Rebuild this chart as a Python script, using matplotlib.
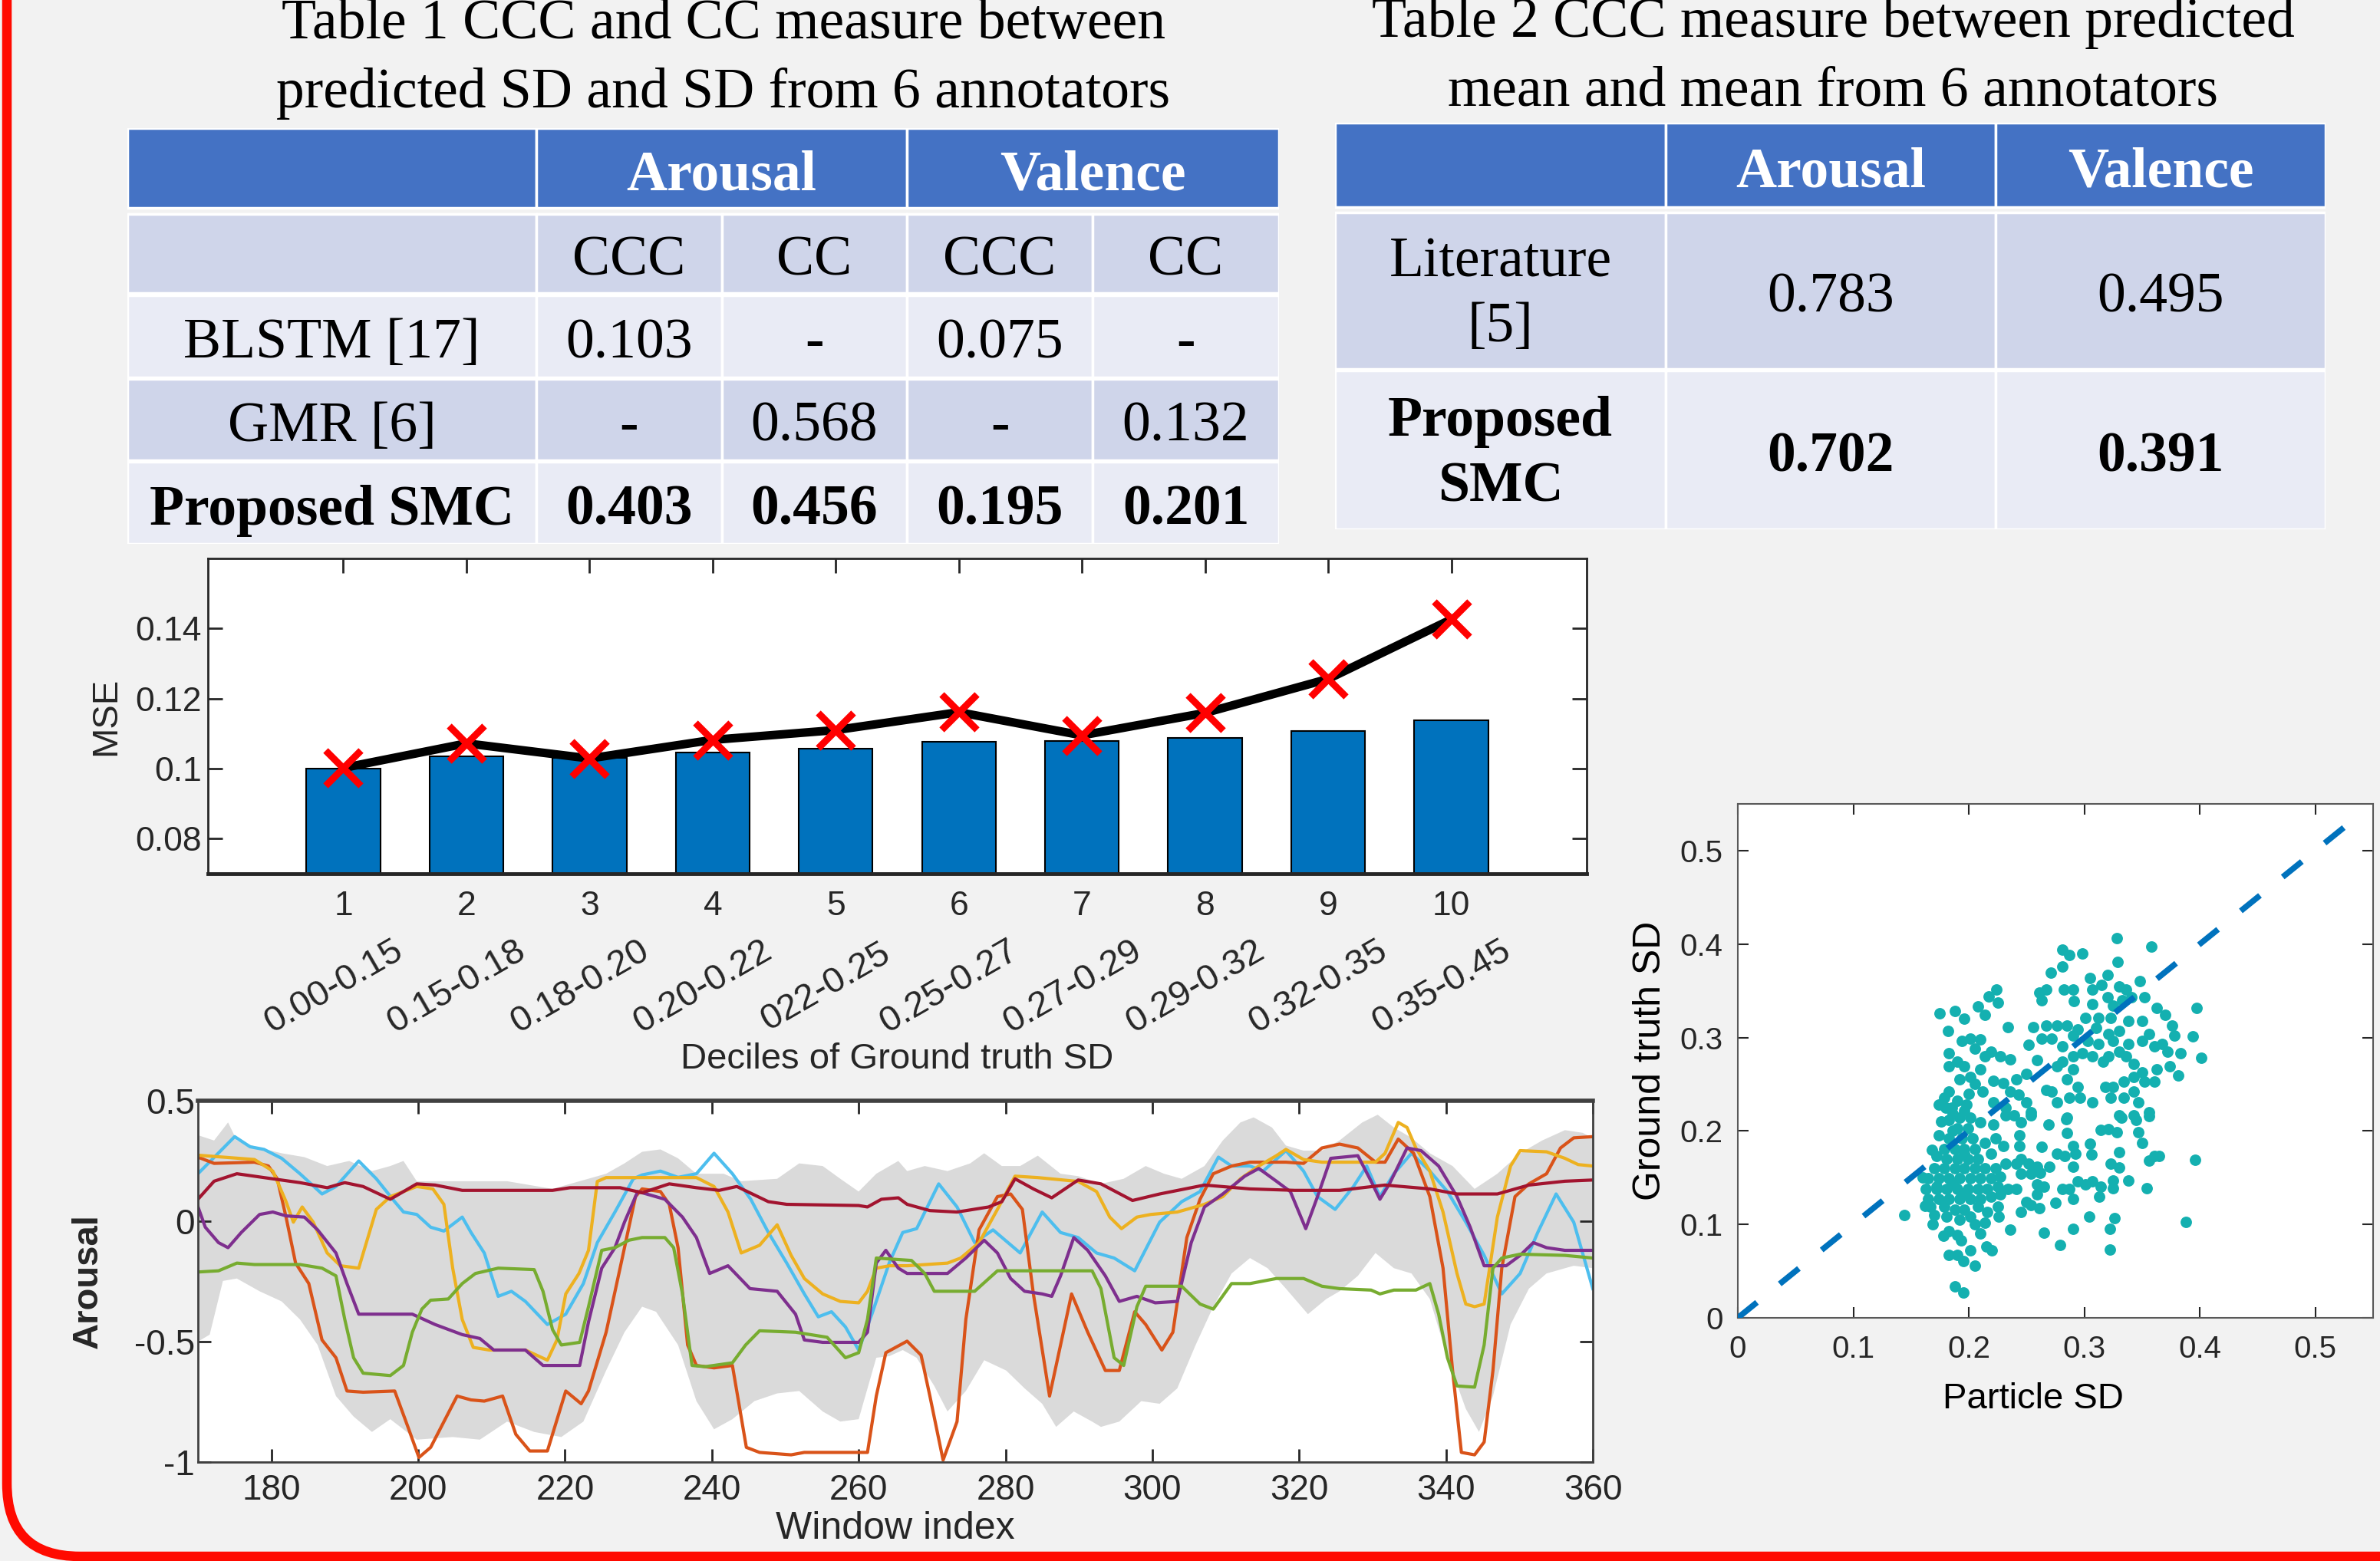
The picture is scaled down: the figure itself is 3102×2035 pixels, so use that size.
import matplotlib
matplotlib.use("Agg")
import matplotlib.pyplot as plt
from matplotlib.patches import Rectangle, FancyBboxPatch
import numpy as np

plt.rcParams['axes.unicode_minus'] = False
SANS = 'Liberation Sans'
SERIF = 'Liberation Serif'

# ---------------- data ----------------
t1_title = ["Table 1 CCC and CC measure between", "predicted SD and SD from 6 annotators"]
t1_groups = ["Arousal", "Valence"]
t1_sub = ["CCC", "CC", "CCC", "CC"]
t1_methods = ["BLSTM [17]", "GMR [6]", "Proposed SMC"]
t1_values = [["0.103", "-", "0.075", "-"],
             ["-", "0.568", "-", "0.132"],
             ["0.403", "0.456", "0.195", "0.201"]]

t2_title = ["Table 2 CCC measure between predicted", "mean and mean from 6 annotators"]
t2_cols = ["Arousal", "Valence"]
t2_methods = ["Literature\n[5]", "Proposed\nSMC"]
t2_values = [["0.783", "0.495"],
             ["0.702", "0.391"]]

deciles = [1, 2, 3, 4, 5, 6, 7, 8, 9, 10]
decile_ranges = ["0.00-0.15", "0.15-0.18", "0.18-0.20", "0.20-0.22", "022-0.25",
                 "0.25-0.27", "0.27-0.29", "0.29-0.32", "0.32-0.35", "0.35-0.45"]
mse_bar = [0.1000, 0.1034, 0.1031, 0.1045, 0.1058, 0.1076, 0.1078, 0.1088, 0.1107, 0.1139]
mse_line = [0.1002, 0.1072, 0.1029, 0.1082, 0.1110, 0.1161, 0.1095, 0.1159, 0.1256, 0.1426]

# annotator traces (window index, arousal)
cyan = [(170, 0.197), (175, 0.351), (177.1, 0.309), (179, 0.298), (181.4, 0.261), (183.9, 0.197),
        (186.9, 0.113), (188.8, 0.144), (191.9, 0.250), (194.3, 0.176), (196.8, 0.081), (198, 0.038),
        (199.8, 0.028), (201.7, -0.025), (203.5, -0.041), (206, 0.017), (207.2, -0.047), (209, -0.132),
        (210.9, -0.312), (212.7, -0.291), (214.6, -0.333), (217.6, -0.429), (220.1, -0.386),
        (222.5, -0.259), (224.4, -0.089), (226.8, 0.038), (229.3, 0.176), (230.5, 0.192), (233, 0.208),
        (235.4, 0.182), (237.9, 0.197), (240.3, 0.282), (242.8, 0.197), (245.3, 0.091), (247.7, -0.047),
        (250.2, -0.174), (252.6, -0.302), (254.5, -0.397), (256.3, -0.376), (258.2, -0.439),
        (260, -0.535), (261.8, -0.386), (264.2, -0.17), (266, -0.047), (267.9, -0.031), (270.9, 0.155),
        (273.4, 0.059), (275.8, -0.089), (278.3, -0.036), (282, -0.132), (285, 0.038), (287.5, -0.047),
        (289.9, -0.068), (292.4, -0.132), (294.8, -0.153), (297.6, -0.206), (301, -0.004), (304, 0.081),
        (306.5, 0.123), (309, 0.266), (310.8, 0.229), (313.3, 0.229), (315.1, 0.208), (318.2, 0.293),
        (320.6, 0.208), (322.5, 0.102), (324.9, 0.049), (327.4, 0.144), (329.2, 0.229), (331, 0.102),
        (332.9, 0.197), (335.3, 0.282), (337.8, 0.208), (340.2, 0.123), (342.7, -0.004), (345.2, -0.142),
        (347.6, -0.302), (350.1, -0.217), (352.5, -0.047), (355, 0.113), (357.4, -0.004), (360, -0.28)]
orange = [(170, 0.266), (172.2, 0.240), (177.7, 0.245), (179.6, 0.229), (180.8, 0.176), (182, 0.017),
          (183.3, -0.174), (185.1, -0.259), (186.9, -0.493), (188.8, -0.567), (190.3, -0.705),
          (192.5, -0.710), (196.8, -0.705), (198.6, -0.854), (200.1, -0.981), (201.7, -0.939),
          (205.3, -0.726), (207.2, -0.742), (209, -0.747), (211.5, -0.726), (213.3, -0.885),
          (215.2, -0.954), (217.6, -0.954), (220.1, -0.705), (222.2, -0.758), (223.2, -0.705),
          (225.6, -0.461), (227.5, -0.195), (229.6, 0.102), (230.5, 0.134), (233, 0.123), (234.2, 0.070),
          (235.4, -0.110), (236.7, -0.514), (237.9, -0.599), (240.3, -0.609), (242.8, -0.599),
          (244.7, -0.939), (246.5, -0.960), (250.8, -0.970), (252.6, -0.960), (261.2, -0.960),
          (262.4, -0.726), (263.7, -0.546), (266.6, -0.498), (268.5, -0.556), (269.7, -0.726),
          (271.5, -0.992), (273.4, -0.832), (274.6, -0.408), (276.4, -0.036), (278.9, 0.102),
          (280.7, 0.113), (282.3, 0.049), (283.8, -0.302), (286, -0.726), (287.5, -0.514), (289, -0.302),
          (291.2, -0.461), (293.6, -0.620), (295.5, -0.620), (297.6, -0.376), (299.1, -0.429),
          (301.3, -0.535), (302.8, -0.461), (304.7, -0.068), (306.5, 0.091), (308.3, 0.197),
          (310.8, 0.229), (313.3, 0.245), (318.2, 0.245), (320.6, 0.240), (323.1, 0.304), (325.5, 0.320),
          (328, 0.304), (330.4, 0.245), (331.7, 0.245), (333.5, 0.341), (335.6, 0.282), (337.8, 0.102),
          (339.6, -0.195), (340.9, -0.620), (342.1, -0.960), (343.9, -0.970), (345.2, -0.917),
          (346.4, -0.620), (347.6, -0.195), (349.4, 0.102), (351.3, 0.155), (353.7, 0.197),
          (355.6, 0.304), (357.4, 0.346), (360, 0.351)]
yellow = [(170, 0.274), (177.7, 0.256), (180.2, 0.208), (182, 0.081), (183, -0.004), (184.2, 0.059),
          (185.7, -0.004), (187.6, -0.132), (189.4, -0.185), (191.9, -0.195), (194.3, 0.049),
          (196.2, 0.102), (199.8, 0.144), (202, 0.134), (203.5, 0.070), (204.7, -0.195), (206, -0.408),
          (207.5, -0.524), (209.7, -0.535), (214.6, -0.535), (217.6, -0.577), (218.9, -0.493),
          (220.1, -0.302), (221.9, -0.217), (223.2, -0.121), (224.4, 0.165), (225.6, 0.181),
          (237.9, 0.181), (240.3, 0.144), (242.2, 0.038), (244, -0.132), (246.5, -0.100), (248.9, -0.015),
          (250.8, -0.142), (252.6, -0.238), (255.1, -0.302), (257.5, -0.333), (260, -0.339),
          (261.2, -0.291), (262.4, -0.195), (264.2, -0.185), (266.6, -0.185), (272.1, -0.174),
          (273.9, -0.153), (276.4, -0.089), (278.9, 0.049), (281.3, 0.187), (284.4, 0.181), (289.9, 0.165),
          (292.4, 0.123), (294.2, 0.017), (295.8, -0.031), (297.9, 0.017), (299.8, 0.028), (303.4, 0.038),
          (307.1, 0.070), (309.6, 0.102), (312, 0.176), (314.5, 0.229), (316.9, 0.272), (318.2, 0.298),
          (320.6, 0.256), (323.1, 0.245), (330.4, 0.245), (331.7, 0.282), (333.5, 0.410), (334.7, 0.389),
          (335.9, 0.304), (337.8, 0.208), (339.6, 0.038), (341.5, -0.217), (342.7, -0.344),
          (343.9, -0.355), (345.2, -0.344), (347, 0.017), (348.8, 0.229), (350.1, 0.293), (353.7, 0.288),
          (356.2, 0.261), (358, 0.235), (360, 0.229)]
purple = [(170, 0.06), (171, -0.025), (172.8, -0.089), (174.1, -0.110), (175.9, -0.047), (178.4, 0.028),
          (180.2, 0.038), (182, 0.022), (184.5, 0.017), (186.3, -0.036), (188.8, -0.132), (190.3, -0.259),
          (191.9, -0.386), (199.2, -0.386), (202.3, -0.429), (206, -0.471), (208.4, -0.487),
          (210.3, -0.535), (214.6, -0.535), (217, -0.599), (222, -0.599), (223.2, -0.418), (225, -0.195),
          (226.8, -0.110), (228.1, -0.004), (229.9, 0.123), (231.1, 0.113), (233.6, 0.091), (236, 0.017),
          (237.9, -0.068), (239.7, -0.217), (242.2, -0.185), (245.2, -0.280), (248.9, -0.291),
          (251.4, -0.386), (252.6, -0.493), (255.1, -0.503), (260, -0.503), (261.2, -0.461),
          (262.4, -0.174), (263.7, -0.121), (265.4, -0.195), (266.6, -0.217), (272.1, -0.217),
          (274.6, -0.153), (277.1, -0.079), (278.9, -0.132), (280.7, -0.238), (282.6, -0.291),
          (285, -0.302), (286.3, -0.312), (287.5, -0.227), (289.3, -0.068), (291.2, -0.121),
          (293.6, -0.227), (295.5, -0.333), (297.9, -0.312), (300.4, -0.339), (303.4, -0.333),
          (305.3, -0.089), (307.1, 0.059), (309.6, 0.113), (312.6, 0.187), (314.5, 0.219), (316.9, 0.166),
          (318.8, 0.123), (320.9, -0.031), (322.5, 0.102), (324.3, 0.261), (328, 0.272), (329.8, 0.166),
          (331, 0.091), (332.3, 0.155), (334.7, 0.304), (336.6, 0.293), (339, 0.229), (341.5, 0.102),
          (343.3, -0.025), (345.2, -0.185), (348.2, -0.185), (350.1, -0.142), (351.9, -0.089),
          (353.7, -0.110), (356.2, -0.121), (360, -0.121)]
green = [(170, -0.211), (172.8, -0.206), (175.3, -0.174), (177.7, -0.180), (183.9, -0.180), (186.9, -0.195),
         (188.8, -0.227), (190, -0.408), (191.2, -0.567), (192.5, -0.631), (196.2, -0.641), (198, -0.599),
         (199.2, -0.461), (200.5, -0.365), (201.7, -0.328), (204.1, -0.323), (206, -0.259),
         (207.8, -0.217), (210.9, -0.195), (215.8, -0.201), (217, -0.291), (218.3, -0.450),
         (219.5, -0.514), (222, -0.503), (223.2, -0.355), (225, -0.121), (226.8, -0.110), (228.7, -0.079),
         (230.5, -0.068), (233.6, -0.068), (234.8, -0.110), (236, -0.302), (237.3, -0.599),
         (239.1, -0.604), (242.8, -0.588), (244.6, -0.514), (246.5, -0.455), (251.4, -0.461),
         (255.7, -0.482), (258.2, -0.567), (260, -0.546), (261.2, -0.408), (262.4, -0.153),
         (267.2, -0.163), (269, -0.217), (270.3, -0.291), (275.8, -0.291), (278.9, -0.206),
         (291.8, -0.206), (293, -0.280), (294.8, -0.567), (296.1, -0.599), (297.9, -0.355),
         (299.1, -0.270), (304, -0.270), (306.5, -0.344), (308.3, -0.365), (310.8, -0.259),
         (313.3, -0.259), (316.9, -0.238), (320.6, -0.238), (323.1, -0.270), (325.5, -0.280),
         (329.8, -0.286), (331, -0.302), (332.9, -0.286), (335.9, -0.286), (337.8, -0.259),
         (339, -0.386), (340.2, -0.567), (341.5, -0.684), (343.9, -0.689), (345.2, -0.514),
         (346.4, -0.195), (347.6, -0.153), (350.1, -0.137), (356.2, -0.142), (360, -0.153)]
darkred = [(170, 0.091), (172.2, 0.166), (175.3, 0.197), (179, 0.181), (183.9, 0.160), (187.6, 0.139),
           (190, 0.160), (192.5, 0.144), (196.2, 0.091), (199.8, 0.155), (202.3, 0.150), (206, 0.128),
           (218.3, 0.128), (220.7, 0.139), (227.5, 0.139), (230.5, 0.118), (234.2, 0.155), (237.9, 0.139),
           (241, 0.128), (243.4, 0.144), (247.7, 0.081), (250.2, 0.070), (260, 0.065), (261.2, 0.059),
           (263.1, 0.091), (265.4, 0.097), (266.6, 0.070), (269.7, 0.044), (273.4, 0.038), (277.7, 0.059),
           (279.5, 0.081), (281.3, 0.176), (283.8, 0.134), (286.3, 0.097), (289.9, 0.171), (293, 0.155),
           (297.3, 0.086), (301, 0.113), (307.1, 0.150), (313.3, 0.134), (319.4, 0.128), (325.5, 0.128),
           (331.7, 0.150), (337.8, 0.134), (341.5, 0.113), (347, 0.113), (351.3, 0.150), (356.2, 0.166),
           (360, 0.171)]
band_upper = [(170, 0.357), (172.2, 0.335), (174.1, 0.410), (175.3, 0.335), (178.4, 0.304), (181.4, 0.282),
              (184.5, 0.266), (187.6, 0.229), (190.6, 0.250), (193.7, 0.208), (196.2, 0.229), (198, 0.250),
              (199.8, 0.166), (212.1, 0.166), (218.3, 0.134), (222, 0.166), (225.6, 0.197), (228.1, 0.240),
              (230.5, 0.288), (233, 0.298), (235.4, 0.261), (237.9, 0.197), (241.6, 0.197), (244, 0.166),
              (248.9, 0.176), (251.9, 0.240), (255.1, 0.229), (257.5, 0.176), (260, 0.123), (262.4, 0.197),
              (265.4, 0.250), (266.6, 0.208), (269, 0.229), (272.1, 0.208), (275.2, 0.240), (277.1, 0.282),
              (279.5, 0.229), (282, 0.229), (284.4, 0.272), (287.5, 0.197), (289.9, 0.187), (293, 0.155),
              (296.1, 0.176), (299.1, 0.229), (301.6, 0.197), (304, 0.176), (307.1, 0.229), (309.6, 0.335),
              (312, 0.410), (313.8, 0.431), (316.3, 0.389), (318.2, 0.314), (320.6, 0.293), (323.1, 0.293),
              (325.5, 0.335), (328.6, 0.410), (330.7, 0.442), (332.9, 0.389), (335.3, 0.346), (337.8, 0.282),
              (340.9, 0.229), (343.9, 0.134), (347, 0.197), (350.1, 0.282), (353.1, 0.335), (356.2, 0.378),
              (358.6, 0.367), (360, 0.346)]
band_lower = [(170, -0.50), (171.6, -0.471), (173.4, -0.248), (175.3, -0.238), (178.4, -0.291),
              (181.4, -0.333), (183.9, -0.408), (186.3, -0.514), (188.8, -0.726), (191.2, -0.811),
              (193.7, -0.875), (196.2, -0.822), (199.8, -0.907), (204.7, -0.896), (208.4, -0.907),
              (212.1, -0.832), (215.8, -0.875), (219.5, -0.896), (222.5, -0.832), (225.6, -0.620),
              (228.1, -0.461), (230.5, -0.355), (232.4, -0.376), (235.4, -0.514), (237.9, -0.747),
              (240.3, -0.864), (242.8, -0.822), (245.8, -0.747), (248.9, -0.715), (251.9, -0.705),
              (255.1, -0.790), (257.5, -0.832), (260, -0.822), (262.4, -0.567), (264.2, -0.560),
              (266, -0.535), (267.9, -0.567), (270.3, -0.684), (272.1, -0.790), (274.6, -0.705),
              (277.1, -0.577), (280.1, -0.620), (282.6, -0.694), (285, -0.758), (286.9, -0.854),
              (289.3, -0.790), (291.8, -0.832), (293, -0.854), (295.5, -0.832), (298.5, -0.747),
              (301, -0.758), (303.4, -0.694), (305.9, -0.514), (308.3, -0.355), (310.8, -0.217),
              (313.3, -0.153), (315.7, -0.195), (318.2, -0.280), (321.2, -0.386), (323.7, -0.323),
              (325.5, -0.291), (328, -0.227), (330.4, -0.132), (332.9, -0.195), (335.3, -0.217),
              (337.8, -0.323), (340.2, -0.567), (342.7, -0.779), (344.5, -0.875), (346.4, -0.726),
              (348.8, -0.429), (351.3, -0.280), (353.7, -0.217), (357.4, -0.185), (360, -0.195)]

# scatter: (particle SD, ground truth SD)
sd_points = [
    (0.328, 0.406), (0.358, 0.397), (0.281, 0.394), (0.287, 0.388), (0.298, 0.390), (0.329, 0.381),
    (0.281, 0.376), (0.271, 0.369), (0.305, 0.364), (0.348, 0.360), (0.320, 0.367), (0.315, 0.356),
    (0.330, 0.355), (0.224, 0.351), (0.217, 0.344), (0.225, 0.337), (0.208, 0.333), (0.214, 0.324),
    (0.175, 0.326), (0.188, 0.328), (0.196, 0.320), (0.182, 0.307), (0.234, 0.311), (0.261, 0.348),
    (0.267, 0.351), (0.282, 0.351), (0.290, 0.351), (0.291, 0.339), (0.263, 0.340), (0.307, 0.336),
    (0.320, 0.343), (0.397, 0.332), (0.394, 0.301), (0.401, 0.278), (0.301, 0.321), (0.312, 0.321),
    (0.325, 0.334), (0.333, 0.340), (0.341, 0.343), (0.352, 0.343), (0.363, 0.332), (0.370, 0.324),
    (0.376, 0.313), (0.378, 0.302), (0.367, 0.293), (0.356, 0.304), (0.350, 0.318), (0.338, 0.318),
    (0.330, 0.307), (0.321, 0.304), (0.310, 0.310), (0.294, 0.309), (0.285, 0.313), (0.276, 0.313),
    (0.267, 0.313), (0.256, 0.311), (0.252, 0.292), (0.263, 0.299), (0.272, 0.299), (0.281, 0.291),
    (0.290, 0.302), (0.303, 0.296), (0.312, 0.293), (0.325, 0.296), (0.338, 0.293), (0.350, 0.296),
    (0.361, 0.291), (0.372, 0.285), (0.383, 0.283), (0.374, 0.269), (0.381, 0.259), (0.363, 0.266),
    (0.361, 0.253), (0.350, 0.263), (0.343, 0.272), (0.336, 0.280), (0.330, 0.285), (0.321, 0.280),
    (0.316, 0.274), (0.307, 0.280), (0.298, 0.283), (0.290, 0.280), (0.281, 0.274), (0.276, 0.269),
    (0.290, 0.266), (0.285, 0.255), (0.294, 0.247), (0.296, 0.236), (0.287, 0.236), (0.272, 0.242),
    (0.267, 0.244), (0.276, 0.231), (0.259, 0.276), (0.250, 0.261), (0.241, 0.255), (0.230, 0.251),
    (0.221, 0.254), (0.236, 0.242), (0.243, 0.239), (0.250, 0.231), (0.254, 0.220), (0.232, 0.225),
    (0.221, 0.231), (0.212, 0.242), (0.201, 0.258), (0.210, 0.266), (0.214, 0.280), (0.205, 0.288),
    (0.194, 0.296), (0.201, 0.299), (0.210, 0.298), (0.219, 0.285), (0.227, 0.280), (0.236, 0.277),
    (0.183, 0.283), (0.190, 0.274), (0.183, 0.269), (0.196, 0.269), (0.192, 0.255), (0.183, 0.242),
    (0.179, 0.236), (0.174, 0.228), (0.185, 0.225), (0.196, 0.222), (0.205, 0.250), (0.343, 0.258),
    (0.352, 0.253), (0.334, 0.253), (0.325, 0.247), (0.318, 0.247), (0.323, 0.236), (0.334, 0.236),
    (0.343, 0.242), (0.347, 0.231), (0.330, 0.217), (0.343, 0.217), (0.356, 0.220), (0.307, 0.231),
    (0.285, 0.214), (0.323, 0.321), (0.307, 0.351), (0.336, 0.351),
    (0.183, 0.212), (0.192, 0.214), (0.201, 0.214), (0.190, 0.203), (0.199, 0.203), (0.183, 0.192),
    (0.194, 0.192), (0.203, 0.192), (0.174, 0.195), (0.179, 0.181), (0.188, 0.181), (0.196, 0.181),
    (0.205, 0.181), (0.172, 0.173), (0.181, 0.170), (0.190, 0.170), (0.199, 0.170), (0.208, 0.170),
    (0.170, 0.160), (0.179, 0.160), (0.188, 0.160), (0.196, 0.160), (0.205, 0.160), (0.214, 0.160),
    (0.223, 0.160), (0.165, 0.149), (0.174, 0.149), (0.183, 0.149), (0.192, 0.149), (0.201, 0.149),
    (0.210, 0.149), (0.219, 0.149), (0.227, 0.151), (0.163, 0.138), (0.172, 0.138), (0.181, 0.138),
    (0.190, 0.138), (0.199, 0.138), (0.208, 0.138), (0.216, 0.138), (0.225, 0.140), (0.165, 0.127),
    (0.174, 0.127), (0.183, 0.127), (0.192, 0.127), (0.201, 0.127), (0.210, 0.127), (0.219, 0.130),
    (0.227, 0.132), (0.167, 0.119), (0.179, 0.119), (0.188, 0.116), (0.196, 0.116), (0.208, 0.119),
    (0.216, 0.113), (0.225, 0.119), (0.181, 0.108), (0.192, 0.105), (0.201, 0.108), (0.214, 0.102),
    (0.226, 0.108), (0.169, 0.100), (0.183, 0.093), (0.190, 0.089), (0.193, 0.083), (0.201, 0.072),
    (0.183, 0.067), (0.190, 0.067), (0.195, 0.061), (0.205, 0.056), (0.215, 0.076), (0.220, 0.072),
    (0.188, 0.034), (0.195, 0.027), (0.144, 0.110), (0.210, 0.209), (0.221, 0.207), (0.232, 0.217),
    (0.239, 0.217), (0.245, 0.209), (0.254, 0.217), (0.269, 0.207), (0.284, 0.213), (0.285, 0.198),
    (0.244, 0.195), (0.244, 0.184), (0.230, 0.184), (0.223, 0.192), (0.214, 0.187), (0.219, 0.176),
    (0.232, 0.165), (0.241, 0.165), (0.245, 0.170), (0.252, 0.165), (0.259, 0.162), (0.270, 0.162),
    (0.263, 0.183), (0.276, 0.176), (0.283, 0.173), (0.290, 0.184), (0.292, 0.176), (0.305, 0.186),
    (0.306, 0.175), (0.290, 0.162), (0.314, 0.201), (0.321, 0.202), (0.328, 0.199), (0.332, 0.214),
    (0.345, 0.212), (0.356, 0.216), (0.347, 0.199), (0.350, 0.187), (0.330, 0.177), (0.323, 0.165),
    (0.330, 0.161), (0.361, 0.173), (0.356, 0.168), (0.365, 0.173), (0.396, 0.169), (0.245, 0.154),
    (0.254, 0.154), (0.262, 0.155), (0.241, 0.138), (0.259, 0.143), (0.265, 0.140), (0.259, 0.132),
    (0.250, 0.124), (0.245, 0.113), (0.254, 0.121), (0.261, 0.117), (0.281, 0.138), (0.287, 0.138),
    (0.294, 0.146), (0.301, 0.143), (0.290, 0.127), (0.307, 0.146), (0.314, 0.140), (0.313, 0.130),
    (0.325, 0.147), (0.325, 0.139), (0.338, 0.147), (0.354, 0.139), (0.275, 0.123), (0.304, 0.108),
    (0.326, 0.107), (0.322, 0.095), (0.290, 0.095), (0.265, 0.091), (0.236, 0.094), (0.279, 0.078),
    (0.322, 0.073), (0.388, 0.103), (0.234, 0.138),
    (0.180, 0.225), (0.190, 0.232), (0.198, 0.228), (0.186, 0.218), (0.176, 0.210), (0.168, 0.180),
    (0.160, 0.150), (0.162, 0.120), (0.170, 0.110), (0.205, 0.100), (0.210, 0.090), (0.178, 0.088),
    (0.172, 0.140), (0.200, 0.240), (0.186, 0.200), (0.196, 0.176), (0.186, 0.143), (0.196, 0.133)]

# ---------------- figure ----------------
W, H = 3102, 2035
fig = plt.figure(figsize=(W / 100, H / 100), dpi=100, facecolor='#f2f2f2')


def box(l, t, r, b):
    # pixel box (left, top, right, bottom) -> figure fraction
    return [l / W, 1 - b / H, (r - l) / W, (b - t) / H]


# red rounded frame
ax_bg = fig.add_axes([0, 0, 1, 1], zorder=-5)
ax_bg.set_xlim(0, W)
ax_bg.set_ylim(H, 0)
ax_bg.axis('off')
ax_bg.add_patch(FancyBboxPatch((9, -300), 3500, 2329, boxstyle="round,pad=0,rounding_size=95",
                               facecolor='none', edgecolor='#ff0a00', lw=9))

HEAD = '#4472c4'
DARK = '#cfd5ea'
LIGHT = '#e9ebf5'
TFS = 53


def cell(ax, x0, x1, y0, y1, color, text='', bold=False, tcolor='black'):
    ax.add_patch(Rectangle((x0, y0), x1 - x0, y1 - y0, facecolor=color, edgecolor='white', lw=2.5))
    if text:
        dy = 6 if '\n' in text else 10
        ax.text((x0 + x1) / 2, (y0 + y1) / 2 + dy, text, ha='center', va='center', family=SERIF,
                fontsize=TFS, fontweight='bold' if bold else 'normal', color=tcolor, linespacing=1.33)


# Table 1
ax_t1 = fig.add_axes(box(166, 167, 1667, 709))
ax_t1.set_xlim(0, 1501)
ax_t1.set_ylim(542, 0)
ax_t1.axis('off')
c1 = [0, 533, 775, 1016, 1258, 1501]
r1 = [(0, 104), (112, 215), (218, 325), (327, 433), (435, 542)]
cell(ax_t1, c1[0], c1[1], *r1[0], HEAD)
cell(ax_t1, c1[1], c1[3], *r1[0], HEAD, t1_groups[0], True, 'white')
cell(ax_t1, c1[3], c1[5], *r1[0], HEAD, t1_groups[1], True, 'white')
cell(ax_t1, c1[0], c1[1], *r1[1], DARK)
for j, s in enumerate(t1_sub):
    cell(ax_t1, c1[j + 1], c1[j + 2], *r1[1], DARK, s)
for i, m in enumerate(t1_methods):
    col = LIGHT if i % 2 == 0 else DARK
    bold = i == len(t1_methods) - 1
    cell(ax_t1, c1[0], c1[1], *r1[i + 2], col, m, bold)
    for j, v in enumerate(t1_values[i]):
        cell(ax_t1, c1[j + 1], c1[j + 2], *r1[i + 2], col, v, bold)
for line, base in zip(t1_title, [50, 140]):
    fig.text(943 / W, 1 - base / H, line, ha='center', va='baseline', family=SERIF, fontsize=TFS)

# Table 2
ax_t2 = fig.add_axes(box(1740, 160, 3031, 690))
ax_t2.set_xlim(0, 1291)
ax_t2.set_ylim(530, 0)
ax_t2.axis('off')
c2 = [0, 431, 861, 1291]
r2 = [(0, 110), (117, 321), (323, 530)]
cell(ax_t2, c2[0], c2[1], *r2[0], HEAD)
for j, s in enumerate(t2_cols):
    cell(ax_t2, c2[j + 1], c2[j + 2], *r2[0], HEAD, s, True, 'white')
for i, m in enumerate(t2_methods):
    col = DARK if i == 0 else LIGHT
    bold = i == 1
    cell(ax_t2, c2[0], c2[1], *r2[i + 1], col, m, bold)
    for j, v in enumerate(t2_values[i]):
        cell(ax_t2, c2[j + 1], c2[j + 2], *r2[i + 1], col, v, bold)
for line, base in zip(t2_title, [48, 138]):
    fig.text(2389 / W, 1 - base / H, line, ha='center', va='baseline', family=SERIF, fontsize=TFS)

# Bar chart of MSE per decile
ax1 = fig.add_axes(box(271, 728, 2068, 1139))
ax1.bar(deciles, mse_bar, width=0.6, color='#0072bd', edgecolor='black', lw=1.5, zorder=2)
ax1.plot(deciles, mse_line, color='black', lw=8, zorder=3)
ax1.plot(deciles, mse_line, 'x', color='red', ms=33, mew=6.5, zorder=4)
ax1.set_xlim(-0.1, 11.1)
ax1.set_ylim(0.07, 0.16)
ax1.set_xticks(deciles)
ax1.set_xticklabels([str(d) for d in deciles])
ax1.set_yticks([0.08, 0.1, 0.12, 0.14])
ax1.set_yticklabels(['0.08', '0.1', '0.12', '0.14'])
ax1.tick_params(direction='in', top=True, right=True, length=14, width=2, colors='#262626',
                labelsize=32)
ax1.tick_params(axis='x', pad=16)
ax1.tick_params(axis='y', pad=6)
for lab in ax1.get_xticklabels() + ax1.get_yticklabels():
    lab.set_family(SANS)
for sp in ax1.spines.values():
    sp.set_color('#262626')
    sp.set_linewidth(2)
ax1.spines['bottom'].set_linewidth(3.5)
for d, r in zip(deciles, decile_ranges):
    ax1.text(d - 0.08, -0.36, r, transform=ax1.get_xaxis_transform(), rotation=30, ha='center',
             va='center', fontsize=34, family=SANS, color='#262626')
ax1.set_xlabel('Deciles of Ground truth SD', fontsize=34, family=SANS, color='#262626')
ax1.xaxis.set_label_coords(0.5, -0.59)
ax1.xaxis.label.set_va('center')
ax1.set_ylabel('MSE', fontsize=34, family=SANS, color='#262626')
ax1.yaxis.set_label_coords(-0.074, 0.5)
ax1.yaxis.label.set_va('center')

# Arousal traces
ax2 = fig.add_axes(box(258, 1435, 2076, 1906))
ux, uy = zip(*band_upper)
lx, ly = zip(*band_lower)
ax2.fill(np.r_[ux, lx[::-1]], np.r_[uy, ly[::-1]], color='#dadada', lw=0, zorder=1)
traces = [(cyan, '#4dbeee'), (orange, '#d95319'), (yellow, '#edb120'), (purple, '#7e2f8e'),
          (green, '#77ac30'), (darkred, '#a2142f')]
for pts, c in traces:
    x, y = zip(*pts)
    ax2.plot(x, y, color=c, lw=3, zorder=2, solid_joinstyle='round')
ax2.set_xlim(170, 360)
ax2.set_ylim(-1, 0.5)
ax2.set_xticks(np.arange(180, 361, 20))
ax2.set_yticks([-1, -0.5, 0, 0.5])
ax2.set_yticklabels(['-1', '-0.5', '0', '0.5'])
ax2.tick_params(direction='in', top=True, right=True, length=12, width=2, colors='#262626',
                labelsize=33)
ax2.tick_params(axis='x', pad=11)
ax2.tick_params(axis='y', pad=3)
for lab in ax2.get_xticklabels() + ax2.get_yticklabels():
    lab.set_family(SANS)
for sp in ax2.spines.values():
    sp.set_color('#404040')
    sp.set_linewidth(2)
ax2.spines['top'].set_linewidth(4)
ax2.set_xlabel('Window index', fontsize=36, family=SANS, color='#262626')
ax2.xaxis.set_label_coords(0.5, -0.185)
ax2.xaxis.label.set_va('center')
ax2.set_ylabel('Arousal', fontsize=34, family=SANS, fontweight='bold', color='#262626')
ax2.yaxis.set_label_coords(-0.079, 0.5)
ax2.yaxis.label.set_va('center')

# Particle SD vs ground truth SD
ax3 = fig.add_axes(box(2265, 1048, 3093, 1718))
px, py = zip(*sd_points)
ax3.scatter(px, py, s=115, color='#14b0b0', lw=0, zorder=2)
ax3.plot([0, 0.535], [0, 0.535], color='#0072bd', lw=5.5, ls=(0, (4.2, 5)), zorder=3)
ax3.set_xlim(0, 0.55)
ax3.set_ylim(0, 0.55)
sd_ticks = [0, 0.1, 0.2, 0.3, 0.4, 0.5]
ax3.set_xticks(sd_ticks)
ax3.set_xticklabels(['0', '0.1', '0.2', '0.3', '0.4', '0.5'])
ax3.set_yticks(sd_ticks)
ax3.set_yticklabels(['0', '0.1', '0.2', '0.3', '0.4', '0.5'])
ax3.tick_params(direction='in', top=True, right=True, length=10, width=1.5, colors='#262626',
                labelsize=29)
ax3.tick_params(axis='x', pad=16)
ax3.tick_params(axis='y', pad=14)
for lab in ax3.get_xticklabels() + ax3.get_yticklabels():
    lab.set_family(SANS)
for sp in ax3.spines.values():
    sp.set_color('#595959')
    sp.set_linewidth(1.5)
ax3.set_xlabel('Particle SD', fontsize=34, family=SANS, color='black')
ax3.xaxis.set_label_coords(0.465, -0.158)
ax3.xaxis.label.set_va('center')
ax3.set_ylabel('Ground truth SD', fontsize=36, family=SANS, color='black')
ax3.yaxis.set_label_coords(-0.138, 0.5)
ax3.yaxis.label.set_va('center')

fig.savefig('out.png', dpi=100, facecolor=fig.get_facecolor())
